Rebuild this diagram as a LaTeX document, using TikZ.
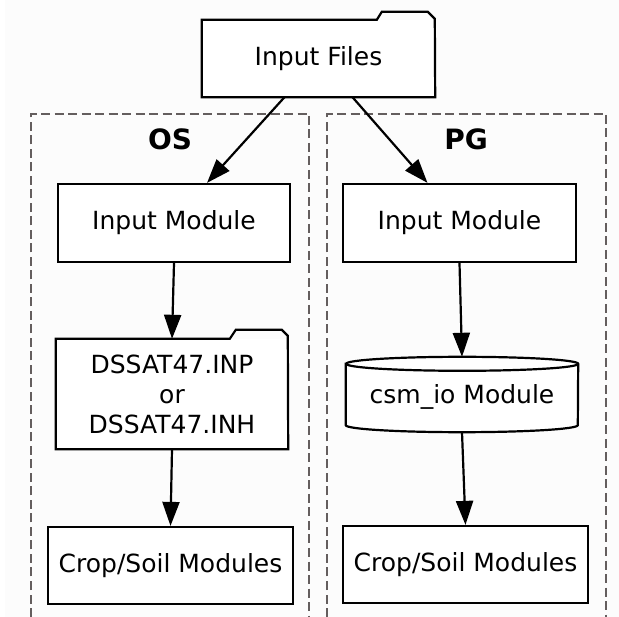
\documentclass[tikz,border=0pt]{standalone}
\usepackage{fontspec}
\setmainfont{DejaVu Sans}
\usetikzlibrary{arrows.meta,calc}
\definecolor{bgc}{RGB}{252,252,252}
\definecolor{clus}{RGB}{100,94,94}
\tikzset{
  every node/.style={font=\fontsize{25}{30}\selectfont},
  boxnode/.style={draw, line width=2.2pt, fill=white, inner sep=0pt, align=center},
  plainnode/.style={fill=white, inner sep=0pt, align=center},
  outline/.style={line width=2.2pt, line join=miter},
  cluster/.style={draw=clus, line width=2.2pt, dash pattern=on 9pt off 4.5pt},
  clabel/.style={font=\fontsize{28}{32}\selectfont\bfseries},
  edge/.style={line width=2.2pt, -{Triangle[length=24pt,width=17pt]}},
}
\begin{document}
\begin{tikzpicture}[x=1pt,y=-1pt]
\useasboundingbox (0,0) rectangle (619,617);
\fill[bgc] (5,0) rectangle (619,617);
% clusters
\draw[cluster] (31,617) -- (31,114) -- (309,114) -- (309,617);
\draw[cluster] (327,617) -- (327,114) -- (606,114) -- (606,617);
\node[clabel] (os) at (170,139) {OS};
\node[clabel] (pg) at (466,139) {PG};
% input files (folder)
\node[plainnode, minimum width=233pt, minimum height=77pt] (files) at (318.5,58.5) {Input Files};
\draw[outline] (files.south west) -- (files.north west) -- ++(175,0) -- ++(5,-8) -- ++(46,0) -- ++(7,7) -- (files.south east) -- cycle;
% input modules
\node[boxnode, minimum width=232pt, minimum height=78pt] (inL) at (174,223) {Input Module};
\node[boxnode, minimum width=233pt, minimum height=78pt] (inR) at (459.5,223) {Input Module};
% DSSAT folder
\node[plainnode, minimum width=232pt, minimum height=110pt] (dssat) at (172,394) {DSSAT47.INP\\or\\DSSAT47.INH};
\draw[outline] (dssat.south west) -- (dssat.north west) -- ++(174,0) -- ++(6,-9) -- ++(46,0) -- ++(6,6) -- (dssat.south east) -- cycle;
% csm_io cylinder
\node[inner sep=0pt, minimum width=232pt, minimum height=75pt] (cyl) at (462,394.5) {};
\filldraw[outline, fill=white] ($(cyl.north west)+(0,7)$) -- ($(cyl.south west)+(0,-7)$)
  arc[start angle=180, end angle=360, x radius=116pt, y radius=7pt]
  -- ($(cyl.north east)+(0,7)$)
  arc[start angle=0, end angle=180, x radius=116pt, y radius=7pt] -- cycle;
\draw[outline] ($(cyl.north east)+(0,7)$) arc[start angle=0, end angle=-180, x radius=116pt, y radius=7pt];
\node (cyltext) at ($(cyl.center)+(0,2)$) {csm\_io Module};
% crop/soil
\node[boxnode, minimum width=245pt, minimum height=77pt] (cropL) at (170.5,565.5) {Crop/Soil Modules};
\node[boxnode, minimum width=245pt, minimum height=77pt] (cropR) at (465.5,564.5) {Crop/Soil Modules};
% edges
\draw[edge] ([xshift=-34pt]files.south) -- ([xshift=33pt]inL.north);
\draw[edge] ([xshift=34pt]files.south) -- ([xshift=-32pt]inR.north);
\draw[edge] (inL.south) -- (dssat.north);
\draw[edge] (dssat.south) -- (cropL.north);
\draw[edge] (inR.south) -- (cyl.north);
\draw[edge] (cyl.south) -- (cropR.north);
\end{tikzpicture}
\end{document}
